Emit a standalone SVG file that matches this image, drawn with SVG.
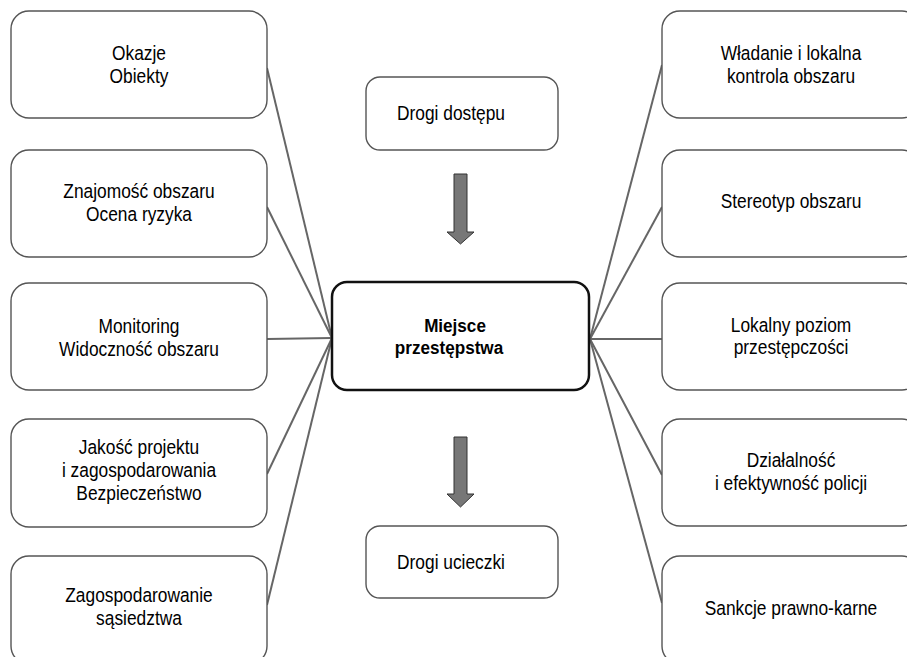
<svg xmlns="http://www.w3.org/2000/svg" width="907" height="657" viewBox="0 0 907 657">
<style>
.box{fill:#fff;stroke:#555;stroke-width:1.4}
.main{fill:#fff;stroke:#111;stroke-width:2.5}
.t{font-family:"Liberation Sans",Arial,sans-serif;font-size:19.5px;fill:#000;text-anchor:middle}
.b{font-weight:bold;font-size:19px}
.ln{stroke:#666;stroke-width:2;fill:none}
.arr{fill:#777;stroke:#333;stroke-width:1}
</style>
<rect width="907" height="657" fill="#fff"/>
<g id="connectors">
<line class="ln" x1="267" y1="68" x2="332" y2="338"/>
<line class="ln" x1="267" y1="207" x2="332" y2="338"/>
<line class="ln" x1="267" y1="339" x2="332" y2="338"/>
<line class="ln" x1="267" y1="474" x2="332" y2="338"/>
<line class="ln" x1="267" y1="605" x2="332" y2="338"/>
<line class="ln" x1="662" y1="65" x2="590" y2="339"/>
<line class="ln" x1="662" y1="207" x2="590" y2="339"/>
<line class="ln" x1="662" y1="339" x2="590" y2="339"/>
<line class="ln" x1="662" y1="475" x2="590" y2="339"/>
<line class="ln" x1="662" y1="603" x2="590" y2="339"/>
<path id="arrow-in" class="arr" d="M454,174 H467 V232 H474 L460.5,244 L447,232 H454 Z"/>
<path id="arrow-out" class="arr" d="M454,437 H467 V494 H474 L460.5,507 L447,494 H454 Z"/>
</g>
<g id="n-okazje"><rect class="box" x="11" y="11" width="256" height="107" rx="18"/>
<text class="t" transform="translate(139,60) scale(0.89,1)">Okazje</text><text class="t" transform="translate(139,83) scale(0.89,1)">Obiekty</text></g>
<g id="n-znajomosc"><rect class="box" x="11" y="150" width="256" height="107" rx="18"/>
<text class="t" transform="translate(139,198) scale(0.89,1)">Znajomość obszaru</text><text class="t" transform="translate(139,221) scale(0.89,1)">Ocena ryzyka</text></g>
<g id="n-monitoring"><rect class="box" x="11" y="283" width="256" height="107" rx="18"/>
<text class="t" transform="translate(139,333) scale(0.89,1)">Monitoring</text><text class="t" transform="translate(139,356) scale(0.89,1)">Widoczność obszaru</text></g>
<g id="n-jakosc"><rect class="box" x="11" y="419" width="256" height="108" rx="18"/>
<text class="t" transform="translate(139,454) scale(0.89,1)">Jakość projektu</text><text class="t" transform="translate(139,477) scale(0.89,1)">i zagospodarowania</text><text class="t" transform="translate(139,500) scale(0.89,1)">Bezpieczeństwo</text></g>
<g id="n-zagosp"><rect class="box" x="11" y="556" width="256" height="108" rx="18"/>
<text class="t" transform="translate(139,602) scale(0.89,1)">Zagospodarowanie</text><text class="t" transform="translate(139,625) scale(0.89,1)">sąsiedztwa</text></g>
<g id="n-wladanie"><rect class="box" x="662" y="11" width="258" height="107" rx="18"/>
<text class="t" transform="translate(791,60) scale(0.89,1)">Władanie i lokalna</text><text class="t" transform="translate(791,83) scale(0.89,1)">kontrola obszaru</text></g>
<g id="n-stereotyp"><rect class="box" x="662" y="150" width="258" height="107" rx="18"/>
<text class="t" transform="translate(791,208) scale(0.89,1)">Stereotyp obszaru</text></g>
<g id="n-lokalny"><rect class="box" x="662" y="283" width="258" height="107" rx="18"/>
<text class="t" transform="translate(791,332) scale(0.89,1)">Lokalny poziom</text><text class="t" transform="translate(791,354) scale(0.89,1)">przestępczości</text></g>
<g id="n-policja"><rect class="box" x="662" y="419" width="258" height="107" rx="18"/>
<text class="t" transform="translate(791,467) scale(0.89,1)">Działalność</text><text class="t" transform="translate(791,490) scale(0.89,1)">i efektywność policji</text></g>
<g id="n-sankcje"><rect class="box" x="662" y="556" width="258" height="108" rx="18"/>
<text class="t" transform="translate(791,615) scale(0.89,1)">Sankcje prawno-karne</text></g>
<g id="n-dostep"><rect class="box" x="366" y="77" width="192" height="73" rx="14"/>
<text class="t" transform="translate(451,120) scale(0.89,1)">Drogi dostępu</text></g>
<g id="n-miejsce"><rect class="main" x="332" y="282" width="257" height="108" rx="15"/>
<text class="t b" transform="translate(455,332) scale(0.9,1)">Miejsce</text><text class="t b" transform="translate(449,354) scale(0.9,1)">przestępstwa</text></g>
<g id="n-ucieczka"><rect class="box" x="366" y="526" width="192" height="72" rx="14"/>
<text class="t" transform="translate(451,569) scale(0.89,1)">Drogi ucieczki</text></g>
</svg>
